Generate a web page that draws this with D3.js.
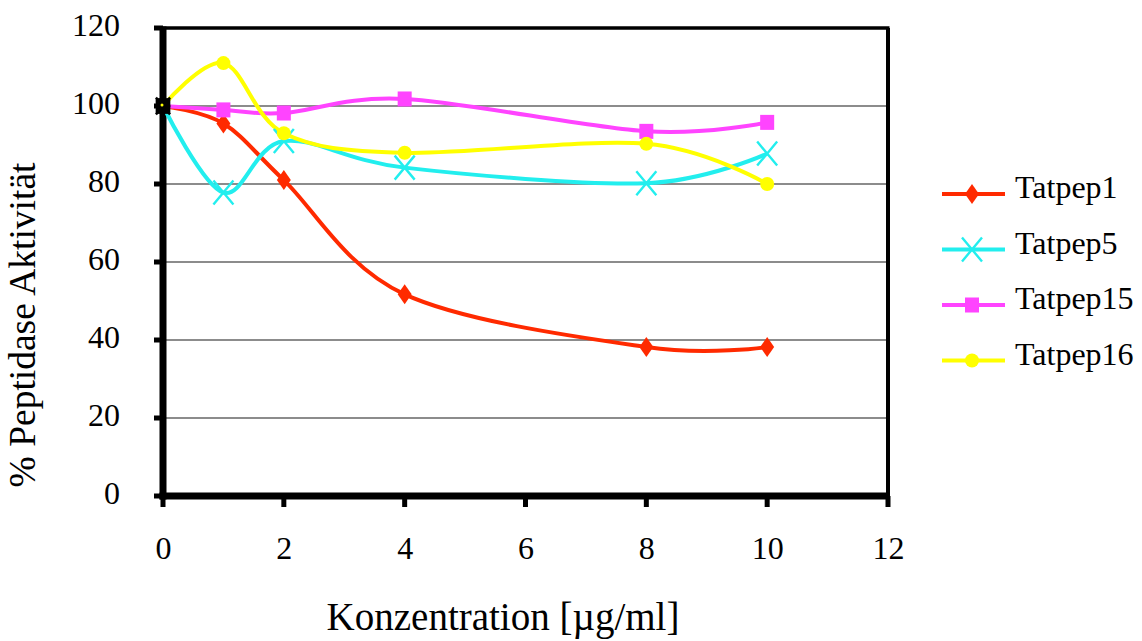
<!DOCTYPE html>
<html><head><meta charset="utf-8">
<script src="https://cdn.jsdelivr.net/npm/d3@7"></script>
<style>body{margin:0;background:#fff}svg{display:block}text{font-family:"Liberation Serif","Times New Roman",serif;fill:#000}</style>
</head><body><svg id="c" width="1142" height="641"></svg>
<script>
const concentrations = [0, 1, 2, 4, 8, 10];
const seriesNames = ["Tatpep1", "Tatpep5", "Tatpep15", "Tatpep16"];
const tatpep1 = [100, 95.5, 81, 51.7, 38.2, 38.2];
const tatpep5 = [100, 77.8, 91, 84.2, 80.2, 87.8];
const tatpep15 = [100, 99, 98.2, 101.8, 93.5, 95.8];
const tatpep16 = [100, 111, 93, 88, 90.3, 80];
const xTicks = [0, 2, 4, 6, 8, 10, 12];
const yTicks = [0, 20, 40, 60, 80, 100, 120];
const colors = ["#ff2a00", "#22eeee", "#ff44ff", "#ffff00"];
const symbols = ["diamond", "x", "square", "circle"];

const svg = d3.select("#c");
const x = d3.scaleLinear().domain([0, 12]).range([163, 888]);
const y = d3.scaleLinear().domain([0, 120]).range([496, 28]);

// gridlines
svg.append("g").selectAll("line").data(yTicks.filter(v => v > 0 && v < 120)).join("line")
  .attr("x1", x(0)).attr("x2", x(12)).attr("y1", d => y(d)).attr("y2", d => y(d))
  .attr("stroke", "#666").attr("stroke-width", 1.6);
// top & right border
svg.append("line").attr("x1", x(0)).attr("x2", x(12) + 1.5).attr("y1", y(120)).attr("y2", y(120)).attr("stroke", "#000").attr("stroke-width", 3.5);
svg.append("line").attr("x1", x(12)).attr("x2", x(12)).attr("y1", y(120)).attr("y2", y(0)).attr("stroke", "#000").attr("stroke-width", 4);

// axes: labels via d3 axes, heavy lines drawn explicitly
const yAxis = svg.append("g").attr("transform", `translate(${x(0)},0)`)
  .call(d3.axisLeft(y).tickValues(yTicks).tickSize(9).tickPadding(34));
const xAxis = svg.append("g").attr("transform", `translate(0,${y(0)})`)
  .call(d3.axisBottom(x).tickValues(xTicks).tickSize(11).tickPadding(29));
[yAxis, xAxis].forEach(a => {
  a.select(".domain").remove();
  a.selectAll(".tick line").remove();
  a.selectAll(".tick text").style("font-family", '"Liberation Serif",serif').style("font-size", "32px").style("fill", "#000");
});
yAxis.selectAll(".tick text").attr("dy", "0.24em");

const axG = svg.append("g").attr("stroke", "#000");
axG.selectAll("line.yt").data(yTicks).join("line").attr("class", "yt")
  .attr("x1", x(0) - 9).attr("x2", x(0)).attr("y1", d => y(d)).attr("y2", d => y(d)).attr("stroke-width", 5);
axG.selectAll("line.xt").data(xTicks).join("line").attr("class", "xt")
  .attr("x1", d => x(d)).attr("x2", d => x(d)).attr("y1", y(0)).attr("y2", y(0) + 11).attr("stroke-width", 5);
axG.append("line").attr("x1", x(0)).attr("x2", x(0)).attr("y1", y(120) - 1.5).attr("y2", y(0) + 3.5).attr("stroke-width", 7);
axG.append("line").attr("x1", x(0) - 3.5).attr("x2", x(12) + 2).attr("y1", y(0)).attr("y2", y(0)).attr("stroke-width", 7);

// axis titles
svg.append("text").attr("transform", "translate(35,325) rotate(-90)").attr("text-anchor", "middle")
  .style("font-size", "37.5px").text("% Peptidase Aktivität");
svg.append("text").attr("x", 503).attr("y", 630).attr("text-anchor", "middle")
  .style("font-size", "39px").text("Konzentration [µg/ml]");

const allSeries = [tatpep1, tatpep5, tatpep15, tatpep16];
const line = d3.line().x(d => x(d[0])).y(d => y(d[1])).curve(d3.curveCardinal.tension(0));

function marker(g, kind, color, cx, cy, scale) {
  const s = scale || 1;
  if (kind === "diamond") {
    g.append("path").attr("d", `M${cx},${cy-10*s}L${cx+7*s},${cy}L${cx},${cy+10*s}L${cx-7*s},${cy}Z`).attr("fill", color);
  } else if (kind === "x") {
    g.append("path").attr("d", `M${cx-10*s},${cy-12*s}L${cx+10*s},${cy+12*s}M${cx+10*s},${cy-12*s}L${cx-10*s},${cy+12*s}`)
      .attr("stroke", color).attr("stroke-width", 2.4).attr("fill", "none");
  } else if (kind === "square") {
    g.append("rect").attr("x", cx-7*s).attr("y", cy-7.5*s).attr("width", 14*s).attr("height", 15*s).attr("fill", color);
  } else {
    g.append("circle").attr("cx", cx).attr("cy", cy).attr("r", 7*s).attr("fill", color);
  }
}

allSeries.forEach((vals, i) => {
  const pts = concentrations.map((c, j) => [c, vals[j]]);
  svg.append("path").attr("d", line(pts)).attr("fill", "none").attr("stroke", colors[i]).attr("stroke-width", 4);
});
allSeries.forEach((vals, i) => {
  const g = svg.append("g");
  concentrations.forEach((c, j) => {
    if (j === 0) return;
    marker(g, symbols[i], colors[i], x(c), y(vals[j]));
  });
});
// overlapping start markers (appear dark in reference)
allSeries.forEach((vals, i) => {
  const g = svg.append("g");
  marker(g, symbols[i], "#000", x(concentrations[0]), y(vals[0]), i === 1 ? 0.7 : 1.05);
});
svg.append("circle").attr("cx", x(concentrations[0]) - 1).attr("cy", y(tatpep16[0]) - 1).attr("r", 1.5).attr("fill", "#ffff00");

// legend
const lg = svg.append("g");
seriesNames.forEach((name, i) => {
  const yy = 194 + i * 55.5;
  lg.append("line").attr("x1", 942).attr("x2", 1005).attr("y1", yy).attr("y2", yy).attr("stroke", colors[i]).attr("stroke-width", 4);
  marker(lg, symbols[i], colors[i], 972, yy, 1);
  lg.append("text").attr("x", 1015).attr("y", yy + 4).style("font-size", "32px").text(name);
});
</script></body></html>
